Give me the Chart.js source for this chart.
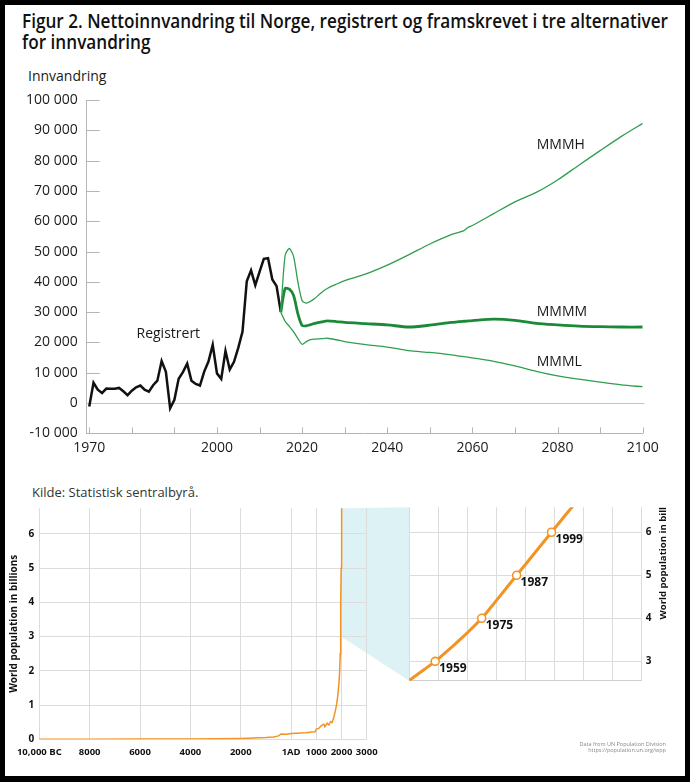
<!DOCTYPE html>
<html><head><meta charset="utf-8">
<script src="https://cdn.jsdelivr.net/npm/chart.js@4.4.0/dist/chart.umd.min.js"></script>
<style>
html,body{margin:0;padding:0;background:#fff;}
#page{position:relative;width:690px;height:782px;overflow:hidden;background:#fff;font-family:"Open Sans",sans-serif;color:#1a1a1a;}
canvas{position:absolute;}
#frame{position:absolute;left:0;top:0;width:690px;height:782px;box-sizing:border-box;border:5px solid #000;border-bottom-width:6px;pointer-events:none;z-index:10;}
.title{position:absolute;left:22px;font-size:19px;font-weight:600;line-height:20px;white-space:nowrap;transform-origin:0 0;color:#111;}
.txt{position:absolute;white-space:nowrap;}
#rtitleBox{position:absolute;left:655px;top:507px;width:16px;height:113px;overflow:hidden;}
#rtitle{position:absolute;left:0;bottom:0;writing-mode:vertical-rl;transform:rotate(180deg);font-size:9.6px;font-weight:700;white-space:nowrap;color:#111;line-height:16px;}
</style></head>
<body>
<div id="page">
  <div class="title" id="t1" style="top:11px">Figur 2. Nettoinnvandring til Norge, registrert og framskrevet i tre alternativer</div>
  <div class="title" id="t2" style="top:32px">for innvandring</div>
  <div class="txt" style="left:28px;top:66px;font-size:14px;line-height:20px;">Innvandring</div>
  <canvas id="topChart" width="690" height="470" style="left:0;top:0"></canvas>
  <div class="txt" style="left:32px;top:483px;font-size:13px;line-height:19px;color:#333;">Kilde: Statistisk sentralbyrå.</div>
  <canvas id="popChart" width="420" height="300" style="left:0;top:480px"></canvas>
  <canvas id="insetChart" width="310" height="300" style="left:380px;top:480px"></canvas>
  <div id="rtitleBox"><div id="rtitle">World population in billions</div></div>
  <div class="txt" style="right:24px;top:741px;font-size:5.5px;line-height:6px;color:#888;text-align:right;">Data from UN Population Division<br>https://population.un.org/wpp</div>
  <div id="frame"></div>
</div>
<script>
// ---------- Top chart data (Nettoinnvandring) ----------
const regYears = [1970,1971,1972,1973,1974,1975,1976,1977,1978,1979,1980,1981,1982,1983,1984,1985,1986,1987,1988,1989,1990,1991,1992,1993,1994,1995,1996,1997,1998,1999,2000,2001,2002,2003,2004,2005,2006,2007,2008,2009,2010,2011,2012,2013,2014,2015];
const registrert = [-1100,6700,4400,3300,4800,4700,4700,5000,3900,2600,4100,5200,5800,4400,3800,5900,7400,13900,10300,-1700,1100,8000,10200,13000,7400,6300,5800,10400,13700,19200,9800,8000,17200,11100,13600,18200,23600,40200,43800,38900,43300,47600,47800,40800,38600,30000];

const projYears = [2015,2016,2017,2018,2019,2020,2021,2022,2023,2024,2025,2026,2028,2030,2035,2040,2045,2050,2055,2058,2059,2060,2065,2070,2075,2080,2085,2090,2095,2100];
const mmmh = [30000,48700,51000,48300,40000,33800,33000,33600,34600,35800,37000,37900,39200,40400,42600,45500,48900,52500,55600,56900,58000,58600,62500,66400,69500,73600,78500,83300,88000,92300];
const mmmm = [30000,37800,37600,35500,29500,25600,25500,25900,26300,26600,26900,27100,26900,26600,26200,25800,25100,25700,26600,27000,27100,27200,27700,27300,26300,25800,25400,25200,25100,25100];
const mmml = [30000,27000,25300,23500,21300,19400,20300,20900,21100,21200,21300,21400,20900,20300,19300,18500,17300,16700,15900,15300,15200,14900,13800,12300,10500,9000,7900,6900,6000,5400];

const xTickYears = [1970,1980,1990,2000,2010,2020,2030,2040,2050,2060,2070,2080,2090,2100];
const xLabelYears = [1970,2000,2020,2040,2060,2080,2100];
const yTickValues = [-10000,0,10000,20000,30000,40000,50000,60000,70000,80000,90000,100000];

const seriesLabels = [
  {text:'MMMH', x:2075.1, y:85300},
  {text:'MMMM', x:2075.1, y:30200},
  {text:'MMML', x:2075.1, y:13600},
  {text:'Registrert', x:1981.1, y:22800}
];

// ---------- World population data ----------
const popYears = [-10000,-8000,-6000,-4000,-3000,-2000,-1500,-1000,-700,-500,-400,-200,1,200,400,600,800,950,1000,1100,1200,1300,1340,1430,1500,1570,1630,1700,1760,1800,1850,1900,1927,1950,1960,1974,1987,1999,2010];
const popValues = [0.004,0.005,0.006,0.007,0.014,0.027,0.035,0.05,0.07,0.1,0.155,0.15,0.17,0.18,0.185,0.19,0.21,0.22,0.3,0.32,0.4,0.44,0.37,0.47,0.42,0.52,0.49,0.66,0.85,1.0,1.26,1.65,2.0,2.5,3.0,4.0,5.0,6.0,6.9];
const popTickYears = [-10000,-8000,-6000,-4000,-2000,0,1000,2000,3000];
const popTickLabels = ['10,000 BC','8000','6000','4000','2000','1AD','1000','2000','3000'];
const popYTicks = [0,1,2,3,4,5,6];

const insetYears = [1950,1955,1959,1965,1970,1975,1980,1987,1993,1999,2005,2010];
const insetValues = [2.55,2.8,3.0,3.35,3.66,4.0,4.41,5.0,5.5,6.0,6.5,6.9];
const insetXTicks = [1950,1960,1970,1980,1990,2000,2010,2020,2030];
const insetYTicks = [3,4,5,6];
const milestoneYears = [1959,1975,1987,1999];
const milestoneValues = [3,4,5,6];

// ---------- Styles ----------
const FONT = '"Open Sans", sans-serif';
const GREEN_THIN = '#2f9e50';
const GREEN_THICK = '#1b8a38';
const ORANGE = '#f39325';
const GRID = '#dcdcdc';
const AXIS = '#b5b5b5';

function fmtThousands(v){ const s = String(Math.abs(v)).replace(/\B(?=(\d{3})+(?!\d))/g,' '); return (v<0?'-':'')+s; }
const pts = (xs, ys) => xs.map((x,i)=>({x, y: ys[i]}));

const innerTicks = {
  id:'innerTicks',
  beforeDatasetsDraw(c){
    const {ctx, chartArea:a, scales:{x,y}} = c;
    ctx.save();
    ctx.strokeStyle = AXIS; ctx.lineWidth = 1;
    ctx.beginPath();
    xTickYears.forEach(v=>{ const px = Math.round(x.getPixelForValue(v))+0.5; ctx.moveTo(px, a.bottom); ctx.lineTo(px, a.bottom-6); });
    yTickValues.forEach(v=>{ const py = Math.round(y.getPixelForValue(v))+0.5; ctx.moveTo(a.left, py); ctx.lineTo(a.left+13, py); });
    ctx.stroke();
    ctx.strokeStyle = '#c4c4c4';
    ctx.beginPath();
    const z = Math.round(y.getPixelForValue(0))+0.5;
    ctx.moveTo(a.left, z); ctx.lineTo(a.right+2, z);
    ctx.stroke();
    ctx.restore();
  }
};
const textLabels = {
  id:'textLabels',
  afterDatasetsDraw(c){
    const {ctx, scales:{x,y}} = c;
    ctx.save();
    ctx.font = '14px ' + FONT; ctx.fillStyle = '#1a1a1a';
    ctx.textAlign = 'left'; ctx.textBaseline = 'middle';
    seriesLabels.forEach(l=> ctx.fillText(l.text, x.getPixelForValue(l.x), y.getPixelForValue(l.y)));
    ctx.restore();
  }
};

new Chart(document.getElementById('topChart'), {
  type:'line',
  data:{ datasets:[
    {label:'MMMH', data:pts(projYears,mmmh), borderColor:GREEN_THIN, borderWidth:1.3, pointRadius:0, tension:0.25},
    {label:'MMML', data:pts(projYears,mmml), borderColor:GREEN_THIN, borderWidth:1.3, pointRadius:0, tension:0.25},
    {label:'MMMM', data:pts(projYears,mmmm), borderColor:GREEN_THICK, borderWidth:2.8, pointRadius:0, tension:0.25},
    {label:'Registrert', data:pts(regYears,registrert), borderColor:'#111', borderWidth:2.5, pointRadius:0, tension:0}
  ]},
  options:{
    responsive:false, animation:false, events:[],
    layout:{padding:{top:100, right:47.3, left:0, bottom:0}},
    plugins:{legend:{display:false}, tooltip:{enabled:false}},
    scales:{
      x:{type:'linear', min:1969.4, max:2100,
        afterBuildTicks:s=>{ s.ticks = xTickYears.map(v=>({value:v})); },
        afterFit:s=>{ s.height = 36.6; },
        grid:{display:false, drawTicks:false},
        border:{display:true, color:AXIS, width:1},
        ticks:{autoSkip:false, maxRotation:0, padding:6, color:'#1a1a1a', font:{family:FONT, size:14},
          callback:v=> xLabelYears.includes(v) ? String(v) : ''}
      },
      y:{type:'linear', min:-10000, max:100000,
        afterBuildTicks:s=>{ s.ticks = yTickValues.map(v=>({value:v})); },
        afterFit:s=>{ s.width = 86.7; },
        grid:{display:false, drawTicks:false},
        border:{display:true, color:AXIS, width:1},
        ticks:{padding:9, color:'#1a1a1a', font:{family:FONT, size:14}, callback:v=>fmtThousands(v)}
      }
    }
  },
  plugins:[innerTicks, textLabels]
});

// ---------- Inset chart ----------
const milestoneText = {
  id:'milestoneText',
  afterDatasetsDraw(c){
    const {ctx, scales:{x,y}} = c;
    ctx.save();
    ctx.font = 'bold 12px ' + FONT; ctx.fillStyle = '#111';
    ctx.textAlign = 'left'; ctx.textBaseline = 'middle';
    milestoneYears.forEach((yr,i)=> ctx.fillText(String(yr), x.getPixelForValue(yr)+4, y.getPixelForValue(milestoneValues[i])+7.5));
    ctx.restore();
  }
};
const inset = new Chart(document.getElementById('insetChart'), {
  type:'line',
  data:{ datasets:[
    {label:'milestones', data:pts(milestoneYears,milestoneValues), showLine:false, pointRadius:4, pointBorderWidth:1.6, pointBackgroundColor:'#fff', pointBorderColor:ORANGE},
    {label:'population', data:pts(insetYears,insetValues), borderColor:ORANGE, borderWidth:3, pointRadius:0, cubicInterpolationMode:'monotone'}
  ]},
  options:{
    responsive:false, animation:false, events:[],
    layout:{padding:{top:27.3, left:29, right:0, bottom:0}},
    plugins:{legend:{display:false}, tooltip:{enabled:false}},
    scales:{
      x:{type:'linear', min:1950, max:2030,
        afterBuildTicks:s=>{ s.ticks = insetXTicks.map(v=>({value:v})); },
        afterFit:s=>{ s.height = 99.3; },
        grid:{color:GRID, drawTicks:false},
        border:{display:true, color:'#cfcfcf'},
        ticks:{display:false}
      },
      y:{type:'linear', position:'right', min:2.55, max:6.58,
        afterBuildTicks:s=>{ s.ticks = insetYTicks.map(v=>({value:v})); },
        afterFit:s=>{ s.width = 48.3; },
        grid:{color:GRID, drawTicks:false},
        border:{display:false},
        ticks:{padding:4, color:'#111', font:{family:FONT, size:10, weight:'bold'}}
      }
    }
  },
  plugins:[milestoneText]
});

// ---------- Left population chart ----------
const zoomConnector = {
  id:'zoomConnector',
  beforeDraw(c){
    const {ctx, chartArea:a, scales:{x,y}} = c;
    const ia = inset.chartArea;
    const offX = 380 - 0, offY = 480 - 480;
    const x0 = x.getPixelForValue(2000);
    ctx.save();
    ctx.fillStyle = '#ddf2f5';
    ctx.beginPath();
    ctx.moveTo(x0, a.top);
    ctx.lineTo(ia.left + offX, ia.top + offY);
    ctx.lineTo(ia.left + offX, ia.bottom + offY);
    ctx.lineTo(x0, y.getPixelForValue(3));
    ctx.closePath();
    ctx.fill();
    ctx.restore();
  }
};
new Chart(document.getElementById('popChart'), {
  type:'line',
  data:{ datasets:[
    {label:'World population', data:pts(popYears,popValues), borderColor:ORANGE, borderWidth:1.5, pointRadius:0, tension:0}
  ]},
  options:{
    responsive:false, animation:false, events:[],
    layout:{padding:{top:28.3, right:53.3, left:0, bottom:0}},
    plugins:{legend:{display:false}, tooltip:{enabled:false}},
    scales:{
      x:{type:'linear', min:-10000, max:3000,
        afterBuildTicks:s=>{ s.ticks = popTickYears.map(v=>({value:v})); },
        afterFit:s=>{ s.height = 40.7; },
        grid:{color:GRID, drawTicks:false},
        border:{display:false},
        ticks:{autoSkip:false, maxRotation:0, padding:7, color:'#111', font:{family:FONT, size:9.5, weight:'bold'},
          callback:v=> popTickLabels[popTickYears.indexOf(v)]}
      },
      y:{type:'linear', min:0, max:6.75,
        afterBuildTicks:s=>{ s.ticks = popYTicks.map(v=>({value:v})); },
        afterFit:s=>{ s.width = 39.3; },
        grid:{color:GRID, drawTicks:false},
        border:{display:false},
        title:{display:true, text:'World population in billions', color:'#111', font:{family:FONT, size:10, weight:'bold'}, padding:{top:8, bottom:0}},
        ticks:{padding:5, color:'#111', font:{family:FONT, size:10, weight:'bold'}}
      }
    }
  },
  plugins:[zoomConnector]
});

// fit title line widths to the reference
(function(){
  const t1 = document.getElementById('t1'), t2 = document.getElementById('t2');
  const w = t1.getBoundingClientRect().width;
  const s = 646 / w;
  t1.style.transform = 'scaleX(' + s + ')';
  t2.style.transform = 'scaleX(' + s + ')';
})();
</script>
</body></html>
